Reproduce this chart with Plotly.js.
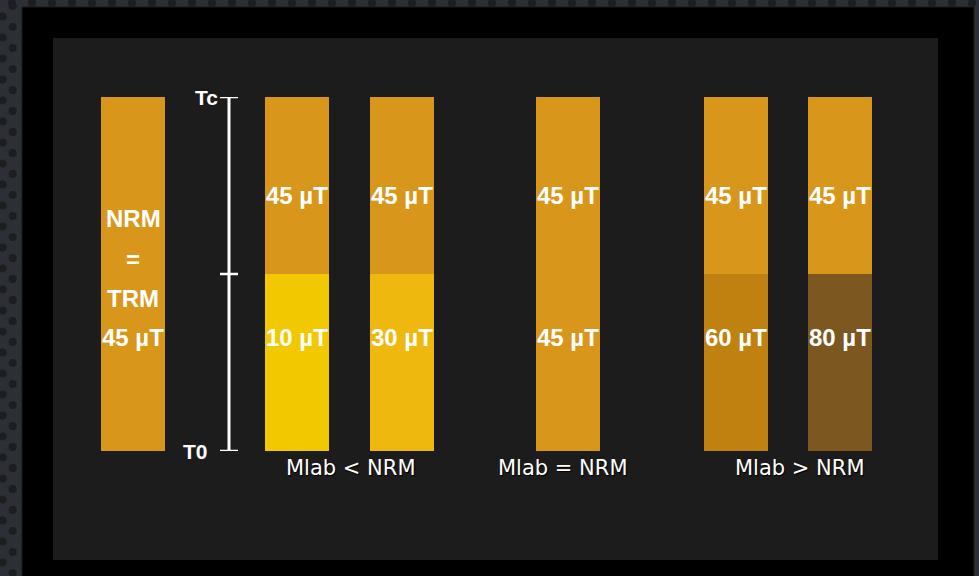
<!DOCTYPE html>
<html>
<head>
<meta charset="utf-8">
<script src="https://cdn.plot.ly/plotly-3.0.1.min.js"></script>
<style>html,body{margin:0;padding:0;background:#2c2f35;}#chart{width:979px;height:576px;}</style>
</head>
<body>
<div id="chart"></div>
<script>
// ---- data ----
const groupLabels = ['Mlab < NRM', 'Mlab = NRM', 'Mlab > NRM'];
const sampleNames = ['NRM', 'A', 'B', 'C', 'D', 'E'];
const lowerFraction = [0.5, 0.5, 0.5, 0.5, 0.5, 0.5];   // T0 -> mid (fraction of Tc)
const upperFraction = [0.5, 0.5, 0.5, 0.5, 0.5, 0.5];   // mid -> Tc
const lowerField = [45, 10, 30, 45, 60, 80];            // µT
const upperField = [45, 45, 45, 45, 45, 45];            // µT
const lowerColors = ['#d8961a', '#f2c900', '#eeb80e', '#d8961a', '#bf810f', '#7c5720'];
const upperColors = ['#d8961a', '#d8961a', '#d8961a', '#d8961a', '#d8961a', '#d8961a'];
const nrmLines = ['NRM', '=', 'TRM', '45 µT'];
const tempTickVals = [0, 0.5, 1];
const tempTickText = ['T0', '', 'Tc'];

// ---- layout constants (pixel space of the 979x576 figure) ----
const W = 979, H = 576;
const barX = [133, 297, 402, 568, 736, 840];
const groupX = [351, 563, 800];
const barWidth = 64;
const axisX = 229;
const tickHalf = 9;
const plotTopPx = 97, plotBotPx = 451;
const py = p => 1 - p / H;

const traces = [
  {
    type: 'bar', x: barX, y: lowerFraction, base: 0, width: barWidth,
    marker: {color: lowerColors, line: {width: 0}}, hoverinfo: 'skip', name: 'lower'
  },
  {
    type: 'bar', x: barX, y: upperFraction, base: lowerFraction, width: barWidth,
    marker: {color: upperColors, line: {width: 0}}, hoverinfo: 'skip', name: 'upper'
  }
];

const shapes = [];
// black frame and inner panel
shapes.push({type: 'rect', xref: 'paper', yref: 'paper', x0: 22 / W, x1: 974 / W, y0: py(H + 5), y1: py(7),
  fillcolor: '#000000', line: {color: '#1a1a1a', width: 1}, layer: 'below'});
shapes.push({type: 'rect', xref: 'paper', yref: 'paper', x0: 53 / W, x1: 938 / W, y0: py(560), y1: py(38),
  fillcolor: '#1c1c1c', line: {width: 0}, layer: 'below'});
// texture dots (decoration)
const r = 4;
for (let cx = 12; cx < W; cx += 20) {
  shapes.push({type: 'circle', xref: 'paper', yref: 'paper', x0: (cx - r) / W, x1: (cx + r) / W,
    y0: py(3 + r), y1: py(3 - r), fillcolor: '#1c1e22', line: {width: 0}, layer: 'below'});
}
for (let k = 0; 111 - 21 * 6 + k * 10.5 < H; k++) {
  const cy = 111 - 21 * 6 + k * 10.5;
  const cx = (k % 2 === 0) ? 12.7 : 2.7;
  shapes.push({type: 'circle', xref: 'paper', yref: 'paper', x0: (cx - r) / W, x1: (cx + r) / W,
    y0: py(cy + r), y1: py(cy - r), fillcolor: '#1c1e22', line: {width: 0}, layer: 'below'});
}
// temperature axis (line + double-sided ticks)
shapes.push({type: 'line', xref: 'x', yref: 'y', x0: axisX, x1: axisX, y0: tempTickVals[0],
  y1: tempTickVals[tempTickVals.length - 1], line: {color: '#ffffff', width: 3}});
tempTickVals.forEach(v => shapes.push({type: 'line', xref: 'x', yref: 'y', x0: axisX - tickHalf,
  x1: axisX + tickHalf, y0: v, y1: v, line: {color: '#ffffff', width: 2.5}}));

const annotations = [];
const boldFont = {family: 'Liberation Sans, Arial, sans-serif', size: 24, color: '#ffffff', weight: 700};
// NRM column text
const nrmLinePx = [218, 259, 298, 337];
nrmLines.forEach((t, i) => annotations.push({xref: 'x', yref: 'paper', x: barX[0], y: py(nrmLinePx[i]),
  text: '<b>' + t + '</b>', showarrow: false, font: boldFont, xanchor: 'center', yanchor: 'middle'}));
// field labels
for (let i = 1; i < barX.length; i++) {
  annotations.push({xref: 'x', yref: 'paper', x: barX[i], y: py(195), text: '<b>' + upperField[i] + ' µT</b>',
    showarrow: false, font: boldFont, xanchor: 'center', yanchor: 'middle'});
  annotations.push({xref: 'x', yref: 'paper', x: barX[i], y: py(337), text: '<b>' + lowerField[i] + ' µT</b>',
    showarrow: false, font: boldFont, xanchor: 'center', yanchor: 'middle'});
}
// group labels
groupLabels.forEach((t, i) => annotations.push({xref: 'x', yref: 'paper', x: groupX[i], y: py(468), text: t,
  showarrow: false, xanchor: 'center', yanchor: 'middle',
  font: {family: 'DejaVu Sans, sans-serif', size: 21, color: '#ffffff', shadow: '1px 1px 1px #000000'}}));
// temperature tick labels
const tickLabelX = [195, 0, 206];
tempTickVals.forEach((v, i) => {
  if (!tempTickText[i]) return;
  annotations.push({xref: 'x', yref: 'y', x: tickLabelX[i], y: v, text: '<b>' + tempTickText[i] + '</b>',
    showarrow: false, xanchor: 'center', yanchor: 'middle',
    font: {family: 'Liberation Sans, Arial, sans-serif', size: 21, color: '#ffffff'}});
});

const layout = {
  width: W, height: H,
  margin: {l: 0, r: 0, t: 0, b: 0, pad: 0},
  paper_bgcolor: '#2c2f35',
  plot_bgcolor: 'rgba(0,0,0,0)',
  showlegend: false,
  barmode: 'overlay',
  xaxis: {range: [0, W], domain: [0, 1], visible: false, fixedrange: true},
  yaxis: {range: [0, 1], domain: [1 - plotBotPx / H, 1 - plotTopPx / H], visible: false, fixedrange: true},
  shapes: shapes,
  annotations: annotations
};

Plotly.newPlot('chart', traces, layout, {displayModeBar: false, staticPlot: true});
</script>
</body>
</html>
